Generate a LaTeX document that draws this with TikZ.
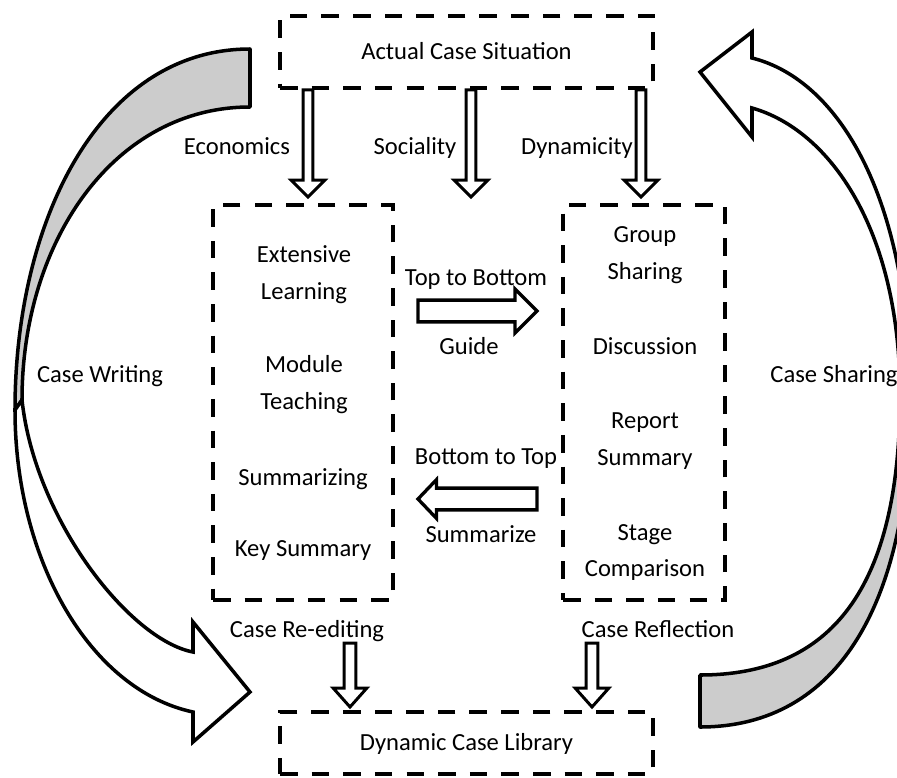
\documentclass[tikz,border=0pt]{standalone}
\usepackage{fontspec}
\setmainfont{Carlito}
\usetikzlibrary{calc}

\tikzset{
  dashbox/.style={draw, line width=2.2pt, dash pattern=on 10pt off 8pt, inner sep=0pt},
  lbl/.style={font=\fontsize{14}{17}\selectfont, inner sep=0pt, text height=9pt, text depth=0pt},
  % hollow block arrow: shaft half width, head half width, head length
  hollow/.style n args={3}{draw, fill=white, line width=1.7pt, line join=miter,
    to path={let \p1=(\tikztostart), \p2=(\tikztotarget),
      \n1={atan2(\y2-\y1,\x2-\x1)} in
      ($(\p1)+(\n1+90:#1)$) -- ($(\p2)+(\n1+180:#3)+(\n1+90:#1)$)
      -- ($(\p2)+(\n1+180:#3)+(\n1+90:#2)$) -- (\p2)
      -- ($(\p2)+(\n1+180:#3)+(\n1-90:#2)$) -- ($(\p2)+(\n1+180:#3)+(\n1-90:#1)$)
      -- ($(\p1)+(\n1-90:#1)$) -- cycle}},
  bandback/.style={draw, line width=2pt, fill=gray!40, line join=round},
  bandfront/.style={draw, line width=2pt, fill=white, line join=miter},
}

\begin{document}
\begin{tikzpicture}[x=0.02cm, y=-0.02cm]
\useasboundingbox (0,0) rectangle (897,778);

% case writing
\draw[bandback] (250,49) .. controls (100,49) and (15,220) .. (15,410) -- (22,400)
  .. controls (22,240) and (115,107) .. (250,107) -- cycle;
\draw[bandfront] (15,410) .. controls (15,560) and (90,690) .. (193,712) -- (193,742)
  -- (250,692) -- (193,622) -- (193,652) .. controls (130,640) and (35,520) .. (22,400) -- cycle;

% case sharing
\begin{scope}
\clip (0,0) rectangle (897,778);
\draw[bandback] (700,727) .. controls (840,727) and (910,600) .. (910,400) -- (900,395)
  .. controls (900,590) and (830,675) .. (700,675) -- cycle;
\draw[bandfront] (910,400) .. controls (910,200) and (840,80) .. (752,58) -- (752,32)
  -- (700,72) -- (752,137) -- (752,108) .. controls (830,130) and (900,230) .. (900,395) -- cycle;
\end{scope}

% boxes
\node[dashbox, lbl, minimum width=7.46cm, minimum height=1.44cm] (situation) at (466.5,52) {Actual Case Situation};
\node[dashbox, minimum width=3.6cm, minimum height=7.9cm] (teach) at (303,402.5) {};
\node[dashbox, minimum width=3.24cm, minimum height=7.9cm] (share) at (644,402.5) {};
\node[dashbox, lbl, minimum width=7.46cm, minimum height=1.24cm] (library) at (466.5,743) {Dynamic Case Library};

% labels
\node[lbl] (economics) at (237,147) {Economics};
\node[lbl] (sociality) at (415,147) {Sociality};
\node[lbl] (dynamicity) at (577,147) {Dynamicity};
\node[lbl] (writing) at (100,375) {Case Writing};
\node[lbl] (sharing) at (834,375) {Case Sharing};
\node[lbl] (topbottom) at (476,278) {Top to Bottom};
\node[lbl] (guide) at (469,347) {Guide};
\node[lbl] (bottomtop) at (486,457) {Bottom to Top};
\node[lbl] (summarize) at (481,535) {Summarize};
\node[lbl] (reedit) at (307,630) {Case Re-editing};
\node[lbl] (reflect) at (658,630) {Case Reflection};

% left box items
\node[lbl] (ext) at (304,255) {Extensive};
\node[lbl] (learn) at (304,292) {Learning};
\node[lbl] (module) at (304,365) {Module};
\node[lbl] (teaching) at (304,402) {Teaching};
\node[lbl] (summing) at (303,478) {Summarizing};
\node[lbl] (keysum) at (303,549) {Key Summary};

% right box items
\node[lbl] (group) at (645,235) {Group};
\node[lbl] (gsharing) at (645,272) {Sharing};
\node[lbl] (discuss) at (645,347) {Discussion};
\node[lbl] (report) at (645,421) {Report};
\node[lbl] (rsummary) at (645,458) {Summary};
\node[lbl] (stage) at (645,533) {Stage};
\node[lbl] (compare) at (645,569) {Comparison};

% arrow ends
\coordinate (econ tip) at (308,197);
\coordinate (soc tip) at (471,197);
\coordinate (dyn tip) at (641,197);
\coordinate (guide tail) at (418,311);
\coordinate (guide tip) at (537,311);
\coordinate (summ tail) at (537,499);
\coordinate (summ tip) at (418,499);
\coordinate (reedit tail) at (350,643);
\coordinate (reedit tip) at (350,707);
\coordinate (reflect tail) at (592,643);
\coordinate (reflect tip) at (592,707);

\draw[hollow={2.8pt}{9.6pt}{9.6pt}] (situation.south -| econ tip) to (econ tip);
\draw[hollow={2.8pt}{9.6pt}{9.6pt}] (situation.south -| soc tip) to (soc tip);
\draw[hollow={2.8pt}{9.6pt}{9.6pt}] (situation.south -| dyn tip) to (dyn tip);
\draw[hollow={6.2pt}{12.5pt}{12.5pt}, line width=1.9pt] (guide tail) to (guide tip);
\draw[hollow={6.2pt}{11pt}{10.5pt}, line width=1.9pt] (summ tail) to (summ tip);
\draw[hollow={3.4pt}{9.6pt}{10.8pt}] (reedit tail) to (reedit tip);
\draw[hollow={3.4pt}{9.6pt}{10.8pt}] (reflect tail) to (reflect tip);
\end{tikzpicture}
\end{document}
